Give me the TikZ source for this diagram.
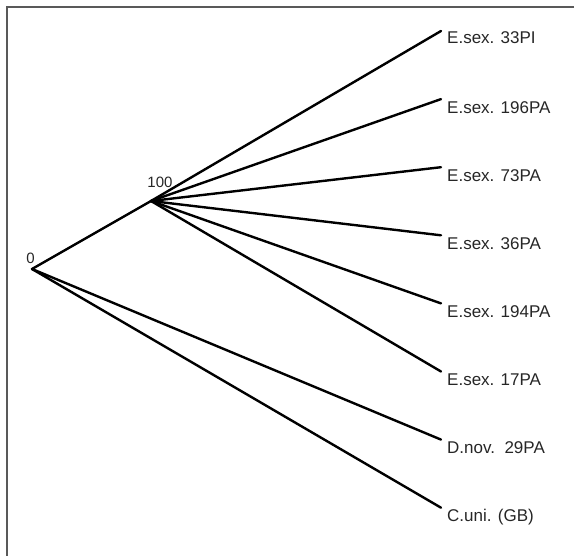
\documentclass[tikz,border=0pt]{standalone}
\usepackage{fontspec}
\setmainfont{Liberation Sans}
\begin{document}
\begin{tikzpicture}[x=1pt,y=-1pt,
  branch/.style={line width=2.4pt,line cap=round,black},
  leaflabel/.style={anchor=base west,inner sep=0pt,font=\fontsize{17}{20}\selectfont,text=black!85},
  numlabel/.style={inner sep=0pt,font=\fontsize{15}{18}\selectfont,text=black!85},
  frame/.style={line width=2pt,draw=black!65}]
\useasboundingbox (0,0) rectangle (575,556);
\draw[frame] (574,7) -- (7,7) -- (7,556);
\coordinate (root) at (32,269);
\coordinate (n100) at (151,201);
\node[numlabel] (lab0) at (30.5,258) {0};
\node[numlabel] (lab100) at (160,182) {100};
% leaf ends
\coordinate (e1) at (441,31);
\coordinate (e2) at (441,99.1);
\coordinate (e3) at (441,167.2);
\coordinate (e4) at (441,235.3);
\coordinate (e5) at (441,303.4);
\coordinate (e6) at (441,371.5);
\coordinate (e7) at (441,439.6);
\coordinate (e8) at (441,507.7);
\node[leaflabel] (t1) at (447,44) {E.sex. 33PI};
\node[leaflabel] (t2) at (447,113.1) {E.sex. 196PA};
\node[leaflabel] (t3) at (447,181.2) {E.sex. 73PA};
\node[leaflabel] (t4) at (447,249.3) {E.sex. 36PA};
\node[leaflabel] (t5) at (447,317.4) {E.sex. 194PA};
\node[leaflabel] (t6) at (447,385.5) {E.sex. 17PA};
\node[leaflabel] (t7) at (447,453.6) {D.nov.\ \ 29PA};
\node[leaflabel] (t8) at (447,521.7) {C.uni. (GB)};
\draw[branch] (root) -- (n100);
\draw[branch] (n100) -- (e1);
\draw[branch] (n100) -- (e2);
\draw[branch] (n100) -- (e3);
\draw[branch] (n100) -- (e4);
\draw[branch] (n100) -- (e5);
\draw[branch] (n100) -- (e6);
\draw[branch] (root) -- (e7);
\draw[branch] (root) -- (e8);
\end{tikzpicture}
\end{document}
